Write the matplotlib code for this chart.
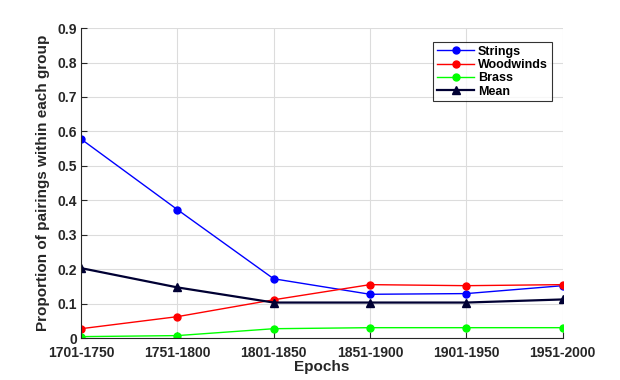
import matplotlib
matplotlib.use("Agg")
import matplotlib.pyplot as plt

epochs = ["1701-1750", "1751-1800", "1801-1850", "1851-1900", "1901-1950", "1951-2000"]
strings = [0.578, 0.373, 0.172, 0.127, 0.129, 0.152]
woodwinds = [0.027, 0.062, 0.111, 0.155, 0.152, 0.155]
brass = [0.004, 0.007, 0.027, 0.030, 0.030, 0.030]
mean = [0.203, 0.147, 0.103, 0.103, 0.103, 0.112]

plt.rcParams['font.family'] = ['Liberation Sans', 'DejaVu Sans']
plt.rcParams['font.weight'] = 'bold'

fig = plt.figure(figsize=(6.2, 3.8), dpi=100)
ax = fig.add_axes([0.1306, 0.1105, 0.777, 0.8155])
x = list(range(1, len(epochs) + 1))

ax.plot(x, strings, color='#0000ff', marker='o', ms=5, lw=1.0, label='Strings')
ax.plot(x, woodwinds, color='#ff0000', marker='o', ms=5, lw=1.0, label='Woodwinds')
ax.plot(x, brass, color='#00ff00', marker='o', ms=5, lw=1.0, label='Brass')
ax.plot(x, mean, color='#000033', marker='^', ms=6, lw=1.6, label='Mean')

ax.set_xlim(1, 6)
ax.set_ylim(0, 0.9)
ax.set_xticks(x)
ax.set_xticklabels(epochs)
ax.set_yticks([i / 10 for i in range(10)])
ax.set_yticklabels(['0'] + [f'{i/10:.1f}' for i in range(1, 10)])
ax.grid(True, color='#dcdcdc', lw=0.8)
ax.set_axisbelow(True)
for s in ['top', 'right']:
    ax.spines[s].set_visible(False)
for s in ['left', 'bottom']:
    ax.spines[s].set_color('#262626')
ax.tick_params(direction='in', length=4, colors='#262626', labelsize=10, pad=3)
ax.tick_params(axis='x', pad=6)
for lbl in ax.get_xticklabels() + ax.get_yticklabels():
    lbl.set_fontweight('bold')
ax.set_xlabel('Epochs', fontsize=11, fontweight='bold', color='#262626', labelpad=0)
ax.set_ylabel('Proportion of pairings within each group', fontsize=11, fontweight='bold', color='#262626', labelpad=5)

leg = ax.legend(loc='upper right', bbox_to_anchor=(0.99, 0.975), fontsize=9, frameon=True,
                fancybox=False, edgecolor='black', borderpad=0.3, labelspacing=0.1,
                handlelength=3.0, handletextpad=0.3)
leg.get_frame().set_linewidth(0.8)
for t in leg.get_texts():
    t.set_fontweight('bold')

fig.savefig('out.png', dpi=100)
